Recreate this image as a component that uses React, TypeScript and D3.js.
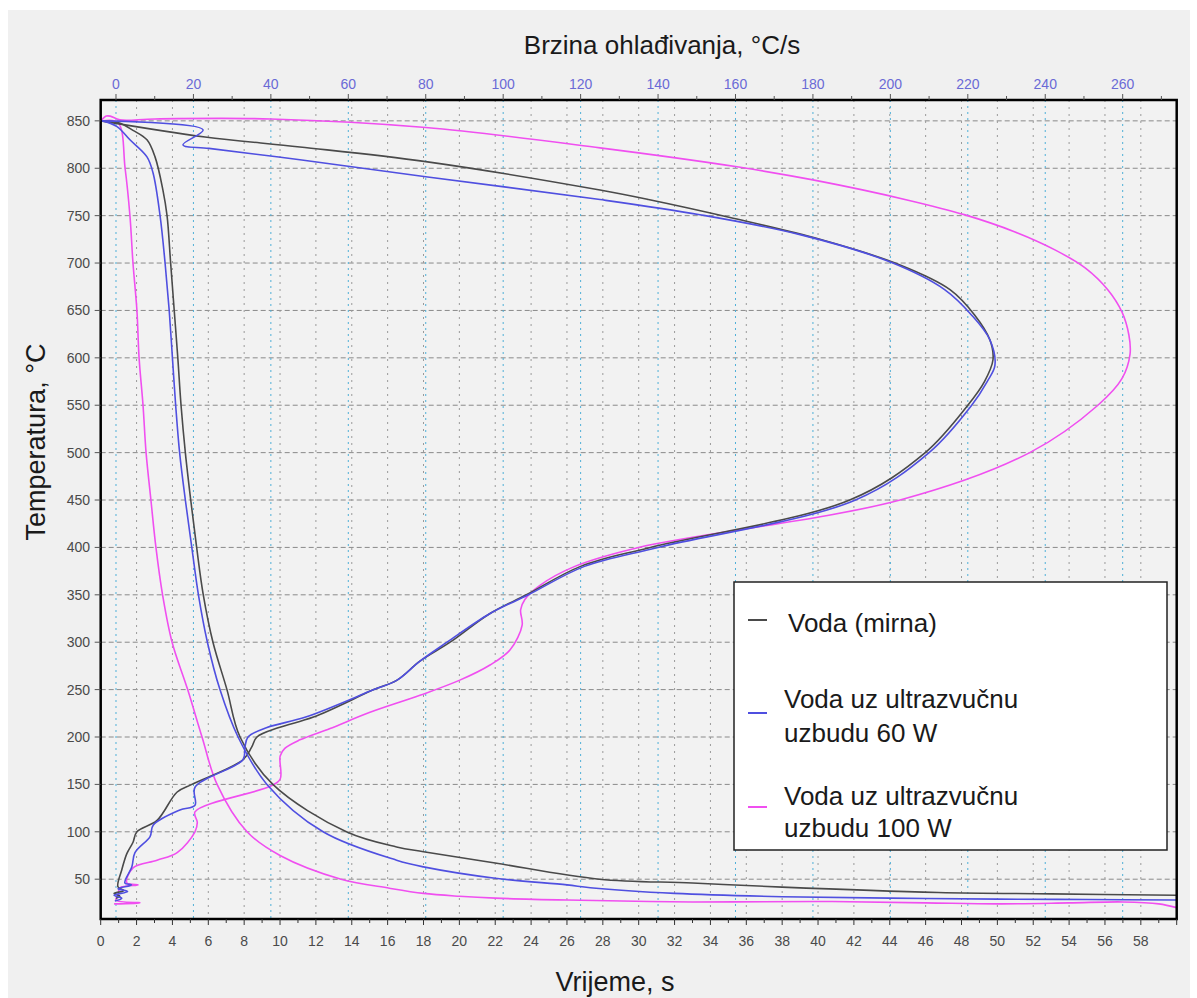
import React from 'react';
import * as d3 from 'd3';

const W = 1197;
const H = 998;

// Axis ticks
const timeTicks = d3.range(0, 59, 2); // 0..58 s
const timeMinor = d3.range(0, 60.01, 1);
const rateTicks = d3.range(0, 261, 20); // 0..260 °C/s
const rateMinor = d3.range(0, 271, 10);
const tempTicks = d3.range(50, 851, 50); // 50..850 °C

// Cooling curves: temperature vs time (bottom axis)
const stillTime = [0, 1.0, 1.8, 2.58, 3.03, 3.47, 3.7, 3.9, 4.1, 4.3, 4.48, 4.72, 5.02, 5.35, 5.72, 6.26, 7.04, 7.77, 9.6, 13.7, 16.5, 18, 22, 27.8, 33, 38, 46.7, 53, 60];
const stillTemp = [850, 848, 840, 830, 812, 777, 750, 700, 650, 600, 550, 500, 450, 400, 350, 300, 250, 200, 150, 100, 84, 79, 67, 50, 46, 41.6, 36, 34.5, 33];

const usb60Time = [0.1, 0.91, 1.63, 2.58, 2.92, 3.31, 3.59, 3.82, 4.0, 4.18, 4.4, 4.72, 5.08, 5.45, 5.95, 6.65, 7.66, 9.27, 12.4, 16.5, 18, 22, 26, 27.3, 32, 38, 44, 50, 55, 60];
const usb60Temp = [850, 844, 830, 812, 795, 750, 700, 650, 600, 550, 500, 450, 400, 350, 300, 250, 200, 150, 100, 70, 63, 51, 44, 41, 35, 31.5, 30, 29, 28.5, 28];

const usb100Time = [0.1, 0.97, 1.36, 1.63, 1.8, 2.02, 2.14, 2.36, 2.53, 2.8, 3.08, 3.45, 3.98, 4.85, 5.65, 6.49, 8.16, 10, 13.4, 16.1, 18, 20, 22, 26, 33, 40, 46, 50, 54, 57, 59, 60];
const usb100Temp = [850, 848, 800, 750, 700, 650, 600, 550, 500, 450, 400, 350, 300, 250, 200, 150, 100, 75, 50, 40.5, 35, 32, 30, 28, 26, 26.5, 25, 24, 25, 26, 24, 20];

// Cooling-rate curves: temperature vs cooling rate (top axis)
const stillRate = [-3.9, 23, 47.5, 80, 125, 137.5, 158.6, 181.8, 202.5, 215.4, 221.8, 225.7, 226.5, 224.3, 220, 209, 189.5, 138, 120, 106, 96.5, 86.3, 78.5, 72.6, 66.6, 51, 42.1, 36.4, 35, 32.8, 19.6, 15.8, 10.6, 5.4, 4.4, 2.8, 1.5, 0.5, 2, -0.5, 1, 0];
const stillRateTemp = [850, 833, 822.5, 807, 777, 767, 748, 725, 698, 672, 645, 619, 598, 575, 550, 500, 450, 400, 380, 350, 330, 300, 280, 260, 250, 221, 210, 200, 189, 176, 150, 142, 112, 100, 89, 77, 60, 42, 38, 35, 32, 30];

const usb60Rate = [-3.9, 22.5, 17.3, 24, 47.5, 80, 125, 150.8, 176.7, 200, 214, 221, 225.7, 227, 225, 221, 210, 191, 140, 121, 106.5, 96.5, 85.5, 78.5, 72.6, 66.6, 49, 39, 34.1, 33.3, 32.8, 20.4, 20.4, 16.5, 9.6, 8.8, 4.9, 4.1, 2.3, 4, 0.5, 3, -0.5, 1.5, -0.3];
const usb60RateTemp = [850, 840.5, 824.7, 821, 809, 791, 767, 751, 730, 701, 672, 645, 619, 592, 575, 550, 500, 450, 400, 380, 350, 330, 300, 280, 260, 250, 221, 210, 200, 189, 176, 147, 128, 123, 107, 95, 78, 63, 46, 44, 40, 37, 33, 30, 27];

const usb100Rate = [-3.9, -2.5, -1.5, 1, 10, 40, 80, 125, 160.4, 180, 204.3, 219.3, 232.2, 242.5, 250.3, 256.2, 259.8, 261.6, 261.9, 259.8, 253.6, 236, 202.5, 135, 118.5, 109.5, 105.6, 104.5, 104.9, 101.8, 96.6, 88.8, 78.5, 65.6, 55.3, 47.5, 43.6, 42.4, 42.4, 39.8, 20.4, 21, 20.4, 15.8, 10.6, 4.4, 2.8, 5.7, 1, 0.5, 0, 6.2, -0.5];
const usb100RateTemp = [850, 855, 855, 851, 852, 852, 843, 821.5, 801.5, 787.7, 766.6, 750.8, 732.8, 713.9, 694.9, 671.6, 648.4, 624.1, 604, 578, 550, 500, 450, 400, 380, 360, 345, 334, 318, 292, 276, 260, 244, 226, 209, 197, 188, 180, 155.5, 148, 121, 110, 100, 78, 70, 62, 46, 44, 41, 33, 28, 25, 24];

const seriesNames = ['Voda (mirna)', 'Voda uz ultrazvučnu|uzbudu 60 W', 'Voda uz ultrazvučnu|uzbudu 100 W'];
const seriesColors = ['#4a4a4a', '#4f4fe0', '#f04ff0'];

const FONT = 'Liberation Sans, Arial, sans-serif';

export default function App() {
  const L = 100.7, R = 1176.7, T = 100, B = 919;
  const x = d3.scaleLinear().domain([0, 60]).range([L, R]);
  const xr = d3.scaleLinear().domain([-3.95, 273.95]).range([L, R]);
  const y = d3.scaleLinear().domain([8, 872]).range([B, T]);

  const mk = (xs: number[], ys: number[], sx: d3.ScaleLinear<number, number>) =>
    d3.line<[number, number]>()
      .x((d) => sx(d[0]))
      .y((d) => y(d[1]))
      .curve(d3.curveCatmullRom.alpha(0.5))(d3.zip(xs, ys) as [number, number][]) || '';

  const curves = [
    { d: mk(usb100Time, usb100Temp, x), c: seriesColors[2] },
    { d: mk(usb100Rate, usb100RateTemp, xr), c: seriesColors[2] },
    { d: mk(stillTime, stillTemp, x), c: seriesColors[0] },
    { d: mk(stillRate, stillRateTemp, xr), c: seriesColors[0] },
    { d: mk(usb60Time, usb60Temp, x), c: seriesColors[1] },
    { d: mk(usb60Rate, usb60RateTemp, xr), c: seriesColors[1] },
  ];

  const legendY = [620, 713, 807];
  const legendText = [[632], [708, 742], [805, 837]];

  return (
    <svg width={W} height={H} style={{ position: 'absolute', left: 0, top: 0, display: 'block' }} fontFamily={FONT}>
      <rect x={0} y={0} width={W} height={H} fill="#ffffff" />
      <rect x={8} y={10} width={1182} height={988} fill="#f0f0f0" />
      <defs>
        <clipPath id="plotclip">
          <rect x={L} y={T} width={R - L} height={B - T} />
        </clipPath>
      </defs>
      <rect x={L} y={T} width={R - L} height={B - T} fill="#f2f2f2" />

      {/* grid */}
      <g>
        {tempTicks.map((v) => (
          <line key={'h' + v} x1={L} x2={R} y1={y(v)} y2={y(v)} stroke="#8a8a8a" strokeWidth={1} strokeDasharray="5,3" />
        ))}
        {timeTicks.filter((v) => v > 0).map((v) => (
          <line key={'vt' + v} x1={x(v)} x2={x(v)} y1={T} y2={B} stroke="#9a9a9a" strokeWidth={1} strokeDasharray="2,5" />
        ))}
        {rateTicks.map((v) => (
          <line key={'vr' + v} x1={xr(v)} x2={xr(v)} y1={T} y2={B} stroke="#4fb0d8" strokeWidth={1} strokeDasharray="2,4" />
        ))}
      </g>

      {/* curves */}
      <g clipPath="url(#plotclip)">
        {curves.map((c, i) => (
          <path key={i} d={c.d} fill="none" stroke={c.c} strokeWidth={1.6} strokeLinejoin="round" />
        ))}
      </g>

      {/* frame */}
      <rect x={L} y={T} width={R - L} height={B - T} fill="none" stroke="#000" strokeWidth={2.5} />

      {/* bottom axis */}
      <g>
        {timeMinor.map((v) => (
          <line key={'bm' + v} x1={x(v)} x2={x(v)} y1={B} y2={B + (v % 2 === 0 ? 6 : 4)} stroke="#333" strokeWidth={1} />
        ))}
        {timeTicks.map((v) => (
          <text key={'bt' + v} x={x(v)} y={946} textAnchor="middle" fontSize={14} fill="#4a4a4a">{v}</text>
        ))}
      </g>

      {/* top axis */}
      <g>
        {rateMinor.map((v) => (
          <line key={'tm' + v} x1={xr(v)} x2={xr(v)} y1={T} y2={T - (v % 20 === 0 ? 6 : 4)} stroke="#555" strokeWidth={1} />
        ))}
        {rateTicks.map((v) => (
          <text key={'tt' + v} x={xr(v)} y={89} textAnchor="middle" fontSize={14} fill="#6a6ad6">{v}</text>
        ))}
      </g>

      {/* left axis */}
      <g>
        {tempTicks.map((v) => (
          <g key={'l' + v}>
            <line x1={L - 6} x2={L} y1={y(v)} y2={y(v)} stroke="#555" strokeWidth={1} />
            <text x={90} y={y(v)} dy="0.35em" textAnchor="end" fontSize={14} fill="#4a4a4a">{v}</text>
          </g>
        ))}
      </g>

      {/* axis titles */}
      <text x={662} y={54} textAnchor="middle" fontSize={26} fill="#1a1a1a">Brzina ohlađivanja, °C/s</text>
      <text x={615} y={991} textAnchor="middle" fontSize={27} fill="#1a1a1a">Vrijeme, s</text>
      <text transform={`translate(45,442) rotate(-90)`} textAnchor="middle" fontSize={27} fill="#1a1a1a">Temperatura, °C</text>

      {/* legend */}
      <g>
        <rect x={734} y={582} width={433} height={268} fill="#ffffff" stroke="#222" strokeWidth={1.5} />
        {seriesNames.map((name, i) => {
          const lines = name.split('|');
          return (
            <g key={'lg' + i}>
              <line x1={748} x2={767} y1={legendY[i]} y2={legendY[i]} stroke={seriesColors[i]} strokeWidth={2} />
              {lines.map((ln, j) => (
                <text key={j} x={i === 0 ? 788 : 784} y={legendText[i][j]} fontSize={26} fill="#1a1a1a">{ln}</text>
              ))}
            </g>
          );
        })}
      </g>
    </svg>
  );
}
